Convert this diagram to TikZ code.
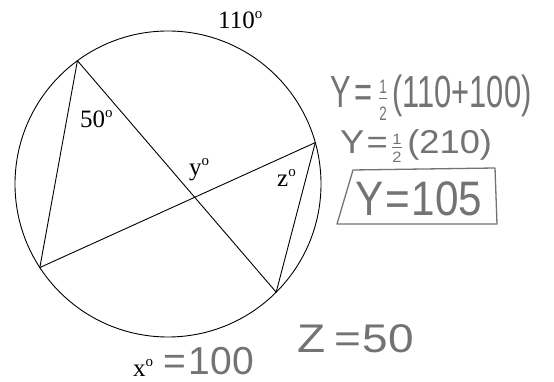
\documentclass[tikz,border=0pt]{standalone}
\usepackage{fontspec}
\usepackage{amsmath}
\setmainfont{Liberation Serif}
\newfontfamily\hand{Liberation Sans}
\usetikzlibrary{calc}
\newcommand\degsym{\raisebox{10pt}{\fontsize{15}{15}\selectfont o}}
\newcommand\hwhalf[1]{\ensuremath{\frac{\text{\fontsize{#1}{#1}\selectfont 1}}{\text{\fontsize{#1}{#1}\selectfont 2}}}}
\begin{document}
\begin{tikzpicture}[x=1pt,y=1pt,
  chord/.style={line width=0.9pt, black},
  lab/.style={inner sep=0pt, anchor=base west, font=\fontsize{25}{25}\selectfont},
  hw/.style={inner sep=0pt, anchor=base west, text=black!55},
  hwbox/.style={draw=black!55, line width=1.3pt, line join=round}]
\useasboundingbox (0,0) rectangle (554,382);
\coordinate (O) at (168,198);
\draw[chord] (O) circle (153);
\coordinate (A) at ($(O)+(126.3:153)$);
\coordinate (B) at ($(O)+(213.1:153)$);
\coordinate (C) at ($(O)+(15.7:153)$);
\coordinate (D) at ($(O)+(-45:153)$);
\draw[chord] (A) -- (B);
\draw[chord] (A) -- (D);
\draw[chord] (B) -- (C);
\draw[chord] (C) -- (D);
% printed labels
\node[lab] (l110) at (218,353) {110\degsym};
\node[lab] (l50) at (80,254) {50\degsym};
\node[lab] (ly) at (189,206) {y\degsym};
\node[lab] (lz) at (277,195) {z\degsym};
\node[lab] (lx) at (133,5) {x\degsym};
% handwritten work
\node[hw] (h1) at (330,274) {\scalebox{1.03}[1.5]{\hand\fontsize{30}{30}\selectfont Y\hspace{4pt}=\hspace{5pt}\hwhalf{13}\hspace{4pt}(110+100)}};
\node[hw] (h2) at (340,228) {\scalebox{1.1}[1.0]{\hand\fontsize{33}{33}\selectfont Y\hspace{2pt}=\hspace{3pt}\hwhalf{15}\hspace{4pt}(210)}};
\node[hw] (h3) at (355,166) {\scalebox{0.96}[1.1]{\hand\fontsize{44}{44}\selectfont Y\hspace{2pt}=\hspace{2pt}105}};
\draw[hwbox] (353,212) -- (495,214) -- (497,158) -- (337,158) -- cycle;
\node[hw] (h4) at (163,7) {\hand\fontsize{39}{39}\selectfont =\hspace{3pt}100};
\node[hw] (h5) at (297,29) {\scalebox{1.15}[1.0]{\hand\fontsize{40}{40}\selectfont Z\hspace{8pt}=\hspace{1pt}50}};
\end{tikzpicture}
\end{document}
